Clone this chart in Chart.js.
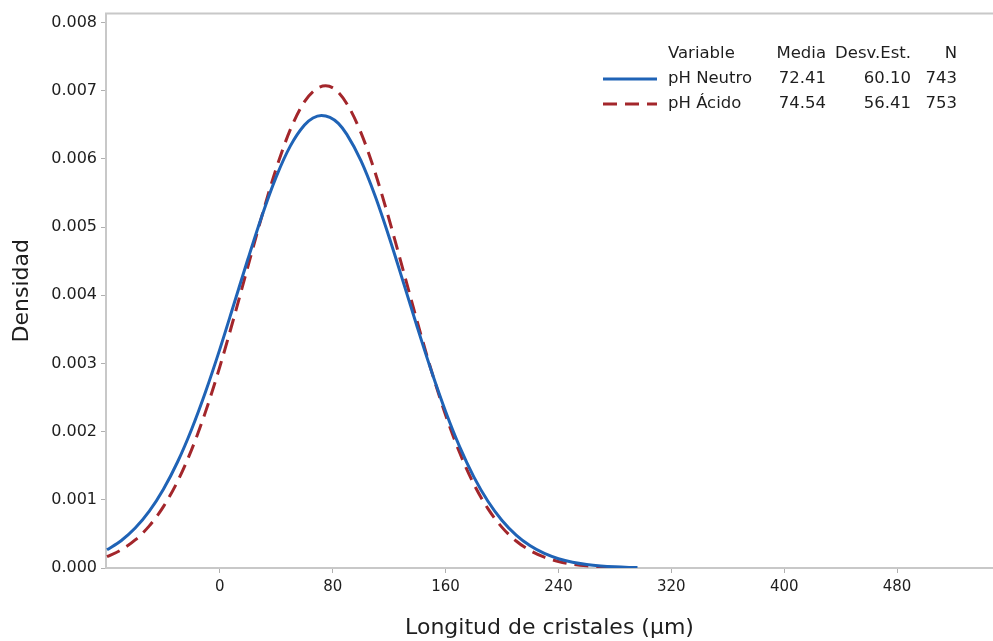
<!DOCTYPE html>
<html>
<head>
<meta charset="utf-8">
<script src="https://cdn.jsdelivr.net/npm/chart.js@4.4.1/dist/chart.umd.min.js"></script>
<style>
  html, body { margin: 0; padding: 0; background: #fff; }
  #wrap { width: 993px; height: 641px; }
</style>
</head>
<body>
<div id="wrap"><canvas id="densityChart"></canvas></div>
<script>
// values
const neutroX = [-80, -70, -60, -50, -40, -30, -20, -10, 0, 10, 20, 30, 40, 50, 60, 66, 72, 78, 84, 90, 100,
    110, 120, 130, 140, 150, 160, 170, 180, 190, 200, 210, 220, 230, 240, 250, 260, 270, 280, 290, 296];
const neutroDensity = [0.000266, 0.000400, 0.000586, 0.000834, 0.001156, 0.001555, 0.002036, 0.002593,
    0.003211, 0.003873, 0.004539, 0.005175, 0.005740, 0.006192, 0.006498, 0.006600, 0.006638, 0.006610, 0.006522, 0.006360,
    0.005974, 0.005459, 0.004851, 0.004194, 0.003527, 0.002885, 0.002295, 0.001776, 0.001337, 0.000979,
    0.000697, 0.000483, 0.000325, 0.000213, 0.000136, 0.000084, 0.000051, 0.000030, 0.000017, 0.000009, 0.000006];
const acidoX = [-80, -70, -60, -50, -40, -30, -20, -10, 0, 10, 20, 30, 40, 50, 60, 68, 75, 82, 90, 100,
    110, 120, 130, 140, 150, 160, 170, 180, 190, 200, 210, 220, 230, 240, 250, 260, 270, 284];
const acidoDensity = [0.000166, 0.000265, 0.000411, 0.000618, 0.000900, 0.001270, 0.001737, 0.002301,
    0.002954, 0.003675, 0.004432, 0.005178, 0.005863, 0.006433, 0.006841, 0.007021, 0.007072, 0.007016, 0.006811,
    0.006387, 0.005804, 0.005112, 0.004362, 0.003607, 0.002890, 0.002245, 0.001690, 0.001232, 0.000871,
    0.000596, 0.000396, 0.000255, 0.000159, 0.000096, 0.000056, 0.000032, 0.000018, 0.000007];

const xTicks = [0, 80, 160, 240, 320, 400, 480];
const yTicks = [0, 0.001, 0.002, 0.003, 0.004, 0.005, 0.006, 0.007, 0.008];

const seriesNames = ['pH Neutro', 'pH Ácido'];
const seriesMeans = ['72.41', '74.54'];
const seriesStdDevs = ['60.10', '56.41'];
const seriesCounts = ['743', '753'];

const BLUE = '#1f63b6';
const RED = '#a3262b';
const FONT = "'DejaVu Sans', 'Noto Sans', sans-serif";
const TEXT = '#1e1e1e';

function toPoints(xs, values) {
    return values.map((y, i) => ({ x: xs[i], y: y }));
}

// table-style legend plus the top frame line
const statsLegend = {
    id: 'statsLegend',
    afterDraw(chart) {
        const ctx = chart.ctx;
        const area = chart.chartArea;
        ctx.save();
        ctx.strokeStyle = '#c8c8c8';
        ctx.lineWidth = 2;
        ctx.beginPath();
        ctx.moveTo(area.left - 1, area.top);
        ctx.lineTo(chart.width, area.top);
        ctx.stroke();

        ctx.font = '16.5px ' + FONT;
        ctx.fillStyle = TEXT;
        ctx.textBaseline = 'middle';
        const rows = [54, 79, 104];
        ctx.textAlign = 'left';
        ctx.fillText('Variable', 668, rows[0]);
        ctx.textAlign = 'right';
        ctx.fillText('Media', 826, rows[0]);
        ctx.fillText('Desv.Est.', 911, rows[0]);
        ctx.fillText('N', 957, rows[0]);

        const colors = [BLUE, RED];
        const dashes = [[], [14, 8]];
        seriesNames.forEach((name, i) => {
            const y = rows[i + 1];
            ctx.strokeStyle = colors[i];
            ctx.lineWidth = 3;
            ctx.setLineDash(dashes[i]);
            ctx.beginPath();
            ctx.moveTo(603, y);
            ctx.lineTo(657, y);
            ctx.stroke();
            ctx.setLineDash([]);
            ctx.textAlign = 'left';
            ctx.fillText(name, 668, y);
            ctx.textAlign = 'right';
            ctx.fillText(seriesMeans[i], 826, y);
            ctx.fillText(seriesStdDevs[i], 911, y);
            ctx.fillText(seriesCounts[i], 957, y);
        });
        ctx.restore();
    }
};

const ctx = document.getElementById('densityChart').getContext('2d');
new Chart(ctx, {
    type: 'scatter',
    data: {
        datasets: [{
            label: seriesNames[0],
            data: toPoints(neutroX, neutroDensity),
            showLine: true,
            borderColor: BLUE,
            borderWidth: 3,
            pointRadius: 0,
            cubicInterpolationMode: 'monotone'
        }, {
            label: seriesNames[1],
            data: toPoints(acidoX, acidoDensity),
            showLine: true,
            borderColor: RED,
            borderWidth: 3,
            borderDash: [14, 8],
            pointRadius: 0,
            cubicInterpolationMode: 'monotone'
        }]
    },
    options: {
        responsive: true,
        maintainAspectRatio: false,
        animation: false,
        layout: { padding: { top: 13, right: 0, left: 0, bottom: 0 } },
        plugins: {
            legend: { display: false },
            tooltip: { enabled: false }
        },
        scales: {
            x: {
                type: 'linear',
                min: -80.7,
                max: 548,
                afterBuildTicks: scale => { scale.ticks = xTicks.map(v => ({ value: v })); },
                afterFit: scale => { scale.height = 73; },
                grid: { drawOnChartArea: false, tickLength: 5, color: '#b0b0b0' },
                border: { color: '#c8c8c8', width: 2 },
                ticks: { color: TEXT, font: { family: FONT, size: 15 }, padding: 5 },
                title: {
                    display: true,
                    text: 'Longitud de cristales (µm)',
                    color: TEXT,
                    font: { family: FONT, size: 22 },
                    padding: { top: 0, bottom: 0 }
                }
            },
            y: {
                min: 0,
                max: 0.008132,
                afterBuildTicks: scale => { scale.ticks = yTicks.map(v => ({ value: v })); },
                afterFit: scale => { scale.width = 106; },
                grid: { drawOnChartArea: false, tickLength: 5, color: '#b0b0b0' },
                border: { color: '#c8c8c8', width: 2 },
                ticks: {
                    color: TEXT,
                    font: { family: FONT, size: 16 },
                    padding: 4,
                    callback: v => v.toFixed(3)
                },
                title: {
                    display: true,
                    text: 'Densidad',
                    color: TEXT,
                    font: { family: FONT, size: 22 },
                    padding: { top: 9, bottom: 0 }
                }
            }
        }
    },
    plugins: [statsLegend]
});
</script>
</body>
</html>
